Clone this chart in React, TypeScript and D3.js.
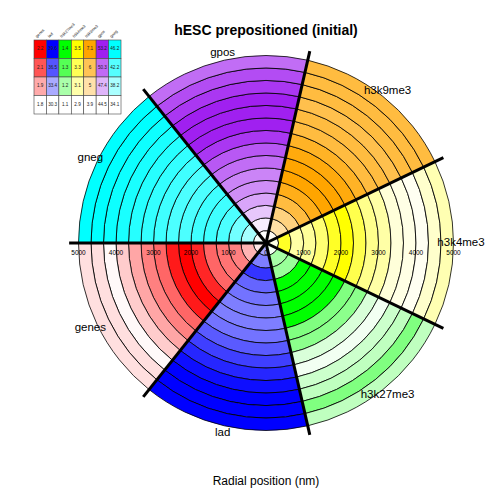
import React from 'react';
import * as d3 from 'd3';

// ---- data ----
const categories = ['genes', 'lad', 'h3k27me3', 'h3k4me3', 'h3k9me3', 'gpos', 'gneg'];
const baseColors = ['#FF0000', '#0000FF', '#00FF00', '#FFFF00', '#FFA500', '#A020F0', '#00FFFF'];
const legendRow1 = [2.2, 39.6, 1.4, 3.5, 7.1, 53.2, 46.2];
const legendRow2 = [2.1, 36.5, 1.3, 3.3, 6, 50.3, 42.2];
const legendRow3 = [1.9, 33.4, 1.2, 3.1, 5, 47.4, 38.2];
const legendRow4 = [1.8, 30.3, 1.1, 2.9, 3.9, 44.5, 34.1];

// ring values, innermost shell first (15 shells of 333 nm up to 5000 nm)
const genesValues = [1.84, 1.92, 2.0, 2.02, 2.04, 2.14, 2.2, 2.16, 2.04, 2.0, 1.94, 1.88, 1.81, 1.85, 1.85];
const ladValues = [33.6, 35.0, 37.7, 35.9, 35.4, 35.0, 35.0, 35.4, 36.3, 37.3, 38.2, 39.1, 39.6, 39.8, 40.1];
const h3k27me3Values = [1.115, 1.205, 1.22, 1.42, 1.45, 1.44, 1.41, 1.25, 1.235, 1.145, 1.115, 1.16, 1.175, 1.25, 1.175];
const h3k4me3Values = [2.96, 3.41, 3.11, 3.14, 3.23, 3.41, 3.52, 3.32, 3.17, 3.11, 2.99, 2.96, 2.93, 3.02, 3.08];
const h3k9me3Values = [4.06, 5.02, 5.5, 6.3, 6.78, 7.2, 7.3, 6.94, 6.62, 6.3, 6.3, 6.14, 6.3, 6.3, 6.3];
const gposValues = [44.2, 45.2, 46.7, 48.0, 48.9, 49.3, 50.2, 51.0, 52.3, 53.4, 53.6, 53.3, 52.3, 51.5, 50.2];
const gnegValues = [34.7, 38.3, 40.8, 42.6, 43.2, 43.2, 42.6, 42.6, 43.2, 43.8, 44.4, 45.0, 45.6, 46.5, 46.8];
const seriesValues = [genesValues, ladValues, h3k27me3Values, h3k4me3Values, h3k9me3Values, gposValues, gnegValues];

const radialTicks = [0, 1000, 2000, 3000, 4000, 5000];
const maxRadius = 5000;
const shellCount = 15;

const title = 'hESC prepositioned (initial)';
const xLabel = 'Radial position (nm)';

const FONT = "'Liberation Sans', Arial, Helvetica, sans-serif";

export default function App() {
  const W = 504, H = 504;
  const cx = 266, cy = 243;
  const r = d3.scaleLinear().domain([0, maxRadius]).range([0, 187.5]);
  const n = categories.length;
  const sectorAngle = (2 * Math.PI) / n;
  // d3 angle: 0 at 12 o'clock, clockwise. genes starts at 9 o'clock going counter-clockwise.
  const startAngle = (i: number) => (3 * Math.PI) / 2 - sectorAngle * (i + 1);
  const endAngle = (i: number) => (3 * Math.PI) / 2 - sectorAngle * i;
  const shell = maxRadius / shellCount;
  const arc = d3.arc<any>();

  const colorFor = (ci: number, v: number) => {
    const t = Math.max(0, Math.min(1, (v - legendRow4[ci]) / (legendRow1[ci] - legendRow4[ci])));
    return d3.interpolateRgb('#ffffff', baseColors[ci])(t);
  };

  const rings: any[] = [];
  seriesValues.forEach((vals, ci) => {
    vals.forEach((v, k) => {
      rings.push({
        key: `${ci}-${k}`,
        d: arc({
          innerRadius: r(k * shell),
          outerRadius: r((k + 1) * shell),
          startAngle: startAngle(ci),
          endAngle: endAngle(ci),
        }),
        fill: colorFor(ci, v),
      });
    });
  });

  const lineLen = r(5250);
  const boundaries = d3.range(n).map((i) => d3.pointRadial(endAngle(i), lineLen));

  // legend table
  const tx = 34, ty = 40, cw = 12.43, ch = 18.5;
  const legendRows = [legendRow1, legendRow2, legendRow3, legendRow4];
  const rowT = [1, 2 / 3, 1 / 3, 0];

  return (
    <svg width={W} height={H} style={{ position: 'absolute', left: 0, top: 0, background: '#fff' }} fontFamily={FONT}>
      <rect x={0} y={0} width={W} height={H} fill="#fff" />
      <text x={266} y={35} textAnchor="middle" fontSize={14} fontWeight="bold" fill="#000">{title}</text>

      <g transform={`translate(${cx},${cy})`}>
        {rings.map((rg) => (
          <path key={rg.key} d={rg.d} fill={rg.fill} stroke="#000" strokeWidth={0.8} />
        ))}
        {radialTicks.map((t) => (
          <g key={t}>
            <text x={r(t)} y={10} textAnchor="middle" dominantBaseline="middle" fontSize={6.5} fill="#000">{t}</text>
            {t > 0 && (
              <text x={-r(t)} y={10} textAnchor="middle" dominantBaseline="middle" fontSize={6.5} fill="#000">{t}</text>
            )}
          </g>
        ))}
        {boundaries.map((p, i) => (
          <line key={i} x1={0} y1={0} x2={p[0]} y2={p[1]} stroke="#000" strokeWidth={3} />
        ))}
        {categories.map((c, i) => {
          const p = d3.pointRadial((startAngle(i) + endAngle(i)) / 2, r(5200));
          return (
            <text key={c} x={p[0]} y={p[1]} textAnchor="middle" dominantBaseline="middle" fontSize={11.5} fill="#000">{c}</text>
          );
        })}
      </g>

      <g>
        {legendRows.map((row, ri) =>
          row.map((v, ci) => (
            <g key={`${ri}-${ci}`}>
              <rect x={tx + ci * cw} y={ty + ri * ch} width={cw} height={ch}
                fill={d3.interpolateRgb('#ffffff', baseColors[ci])(rowT[ri])} stroke="#444" strokeWidth={0.6} />
              <text x={tx + ci * cw + cw / 2} y={ty + ri * ch + ch / 2} textAnchor="middle" dominantBaseline="middle"
                fontSize={4.6} fill="#222">{v}</text>
            </g>
          ))
        )}
        {categories.map((c, ci) => (
          <text key={c} transform={`translate(${tx + ci * cw + 3},${ty - 2}) rotate(-45)`} fontSize={4} fill="#222">{c}</text>
        ))}
      </g>

      <text x={266} y={485} textAnchor="middle" fontSize={12} fill="#000">{xLabel}</text>
    </svg>
  );
}
